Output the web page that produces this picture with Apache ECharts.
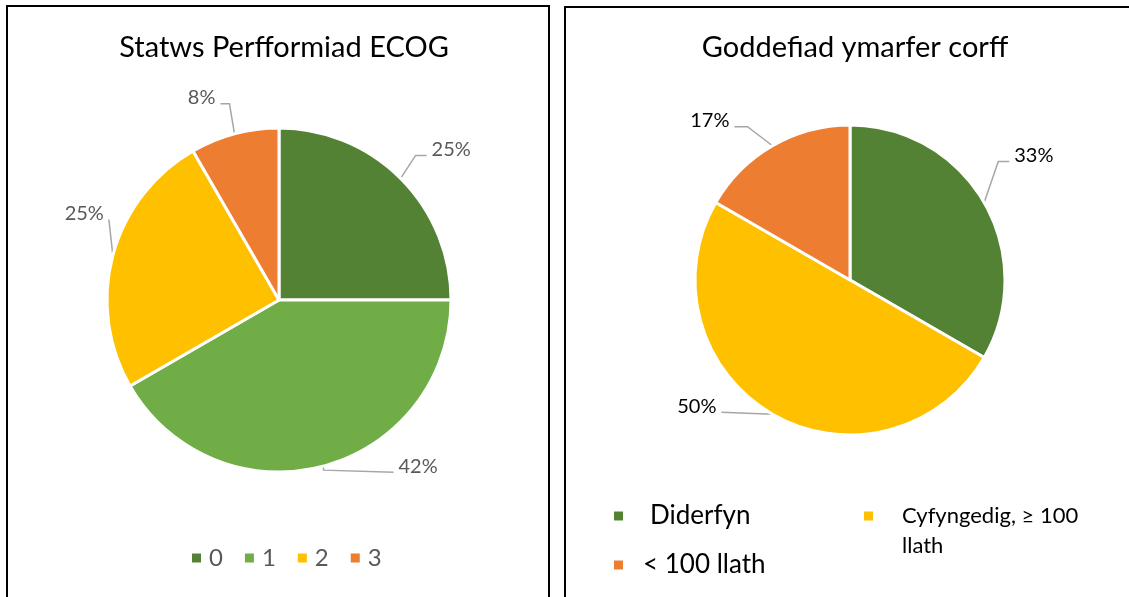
<!DOCTYPE html>
<html>
<head>
<meta charset="utf-8">
<script src="https://cdn.jsdelivr.net/npm/echarts@6/dist/echarts.min.js"></script>
<style>
  html, body { margin: 0; padding: 0; background: #fff; }
  #main { width: 1129px; height: 597px; }
</style>
</head>
<body>
<div id="main"></div>
<script>
// ECOG performance status
const ecogNames = ["0", "1", "2", "3"];
const ecogValues = [3, 5, 3, 1];
const ecogColors = ["#548235", "#70AD47", "#FFC000", "#ED7D31"];

// exercise tolerance
const exNames = ["Diderfyn", "Cyfyngedig, ≥ 100\nllath", "< 100 llath"];
const exValues = [2, 3, 1];
const exColors = ["#548235", "#FFC000", "#ED7D31"];

const font = "Lato";

// leader line shape per slice, relative to the slice edge point ECharts gives:
// [bend dx, bend dy, end dx, end dy, side]
const ecogLeaders = [
  [15, -23, 26, -23, 1],
  [0, 4, 70, 6, 1],
  [-4, -36, -4, -36, -1],
  [-5, -30, -14, -30, -1]
];
const exLeaders = [
  [14, -41, 25, -41, 1],
  [0, 0, -51, -2, -1],
  [-25, -19, -38, -19, -1]
];

function pieData(names, values, colors) {
  return names.map((n, i) => ({ name: n, value: values[i], itemStyle: { color: colors[i] } }));
}

function leaderLayout(leaders, textLift) {
  return function (params) {
    const pts = params.labelLinePoints;
    if (!pts) return {};
    const l = leaders[params.dataIndex];
    const a = pts[0];
    const b = [a[0] + l[0], a[1] + l[1]];
    const c = [a[0] + l[2], a[1] + l[3]];
    return {
      x: c[0] + l[4] * 5,
      y: c[1] - textLift,
      align: l[4] > 0 ? "left" : "right",
      verticalAlign: "middle",
      labelLinePoints: [a, b, c]
    };
  };
}

const chart = echarts.init(document.getElementById("main"));

const option = {
  animation: false,
  textStyle: { fontFamily: font },
  title: [
    {
      text: "Statws Perfformiad ECOG",
      left: 279, top: 28, textAlign: "center",
      textStyle: { fontFamily: font, fontSize: 29, fontWeight: "normal", color: "#000" }
    },
    {
      text: "Goddefiad ymarfer corff",
      left: 850, top: 28, textAlign: "center",
      textStyle: { fontFamily: font, fontSize: 29, fontWeight: "normal", color: "#000" }
    }
  ],
  legend: [
    {
      data: ecogNames,
      left: 185, top: 539,
      icon: "rect", itemWidth: 11, itemHeight: 11, itemGap: 20,
      textStyle: { fontFamily: font, fontSize: 24, lineHeight: 28, color: "#595959", padding: [0, 0, 0, 2] }
    },
    {
      data: [
        { name: exNames[0], textStyle: { padding: [0, 0, 0, 21] } },
        { name: exNames[2], textStyle: { padding: [0, 0, 0, 14] } }
      ],
      orient: "vertical",
      left: 607, top: 496,
      icon: "rect", itemWidth: 11, itemHeight: 11, itemGap: 19,
      textStyle: { fontFamily: font, fontSize: 26, lineHeight: 30, color: "#000" }
    },
    {
      data: [exNames[1]],
      left: 857, top: 466,
      icon: "rect", itemWidth: 11, itemHeight: 11,
      formatter: name => " \n" + name,
      textStyle: { fontFamily: font, fontSize: 22, lineHeight: 30, color: "#000", padding: [0, 0, 0, 23] }
    }
  ],
  graphic: [
    { type: "rect", shape: { x: 7, y: 6, width: 542, height: 620 }, style: { fill: null, stroke: "#000", lineWidth: 2 } },
    { type: "rect", shape: { x: 565, y: 7, width: 600, height: 620 }, style: { fill: null, stroke: "#000", lineWidth: 2 } }
  ],
  series: [
    {
      type: "pie",
      center: [279, 300],
      radius: 172,
      startAngle: 90,
      clockwise: true,
      percentPrecision: 0,
      itemStyle: { borderColor: "#fff", borderWidth: 3 },
      label: { formatter: "{d}%", fontFamily: font, fontSize: 20, color: "#595959" },
      labelLine: { length: 20, length2: 10, lineStyle: { color: "#A6A6A6", width: 1.5 } },
      labelLayout: leaderLayout(ecogLeaders, 6),
      data: pieData(ecogNames, ecogValues, ecogColors)
    },
    {
      type: "pie",
      center: [850, 280],
      radius: 155,
      startAngle: 90,
      clockwise: true,
      percentPrecision: 0,
      itemStyle: { borderColor: "#fff", borderWidth: 3 },
      label: { formatter: "{d}%", fontFamily: font, fontSize: 20, color: "#000" },
      labelLine: { length: 20, length2: 10, lineStyle: { color: "#A6A6A6", width: 1.5 } },
      labelLayout: leaderLayout(exLeaders, 6),
      data: pieData(exNames, exValues, exColors)
    }
  ]
};

chart.setOption(option);
</script>
</body>
</html>
